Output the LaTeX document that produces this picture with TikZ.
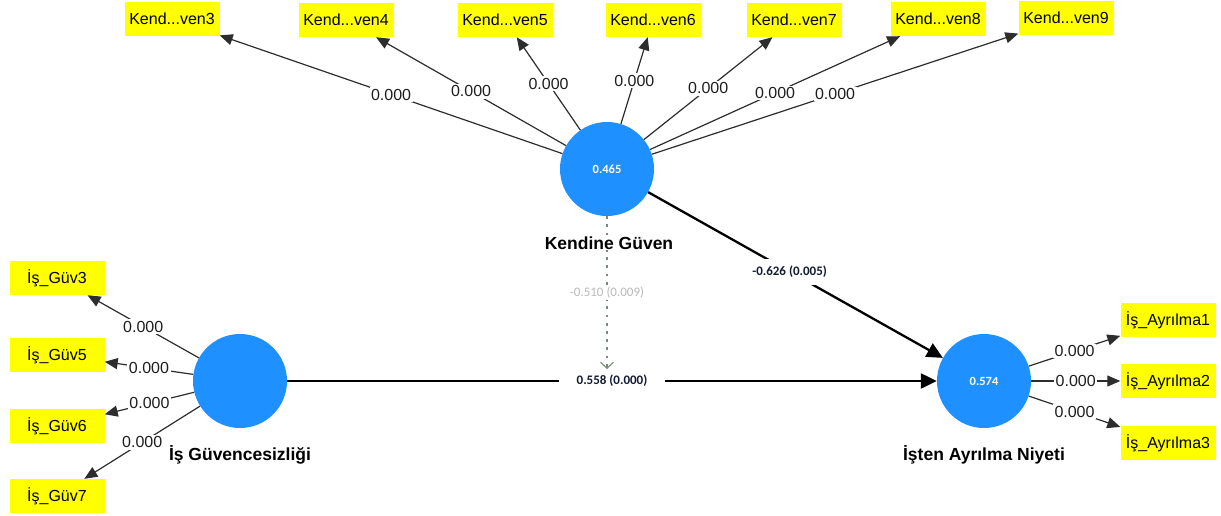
\documentclass[tikz,border=0pt]{standalone}
\usepackage{fontspec}
\setmainfont{Liberation Sans}
\newfontfamily\calib{Carlito}
\usetikzlibrary{arrows.meta}
\definecolor{lvblue}{RGB}{30,144,255}
\definecolor{indyel}{RGB}{255,255,0}
\definecolor{modgray}{RGB}{118,138,118}
\definecolor{modtext}{RGB}{185,185,185}
\definecolor{loadline}{RGB}{45,45,45}
\definecolor{pathtext}{RGB}{20,28,50}
\begin{document}
\begin{tikzpicture}[x=1pt,y=-1pt,
 lv/.style={circle,fill=lvblue,minimum size=94pt,inner sep=0pt,text=white,font=\calib\bfseries\fontsize{12.5}{14}\selectfont},
 ind/.style={rectangle,fill=indyel,minimum width=95pt,minimum height=34pt,inner sep=0pt,font=\fontsize{16}{18}\selectfont},
 lvname/.style={font=\bfseries\fontsize{17.5}{20}\selectfont,fill=white,inner sep=1pt},
 load/.style={draw=loadline,line width=1.2pt,-{Triangle[length=13pt,width=11pt]}},
 loadlab/.style={fill=white,inner sep=1.5pt,font=\fontsize{16}{18}\selectfont,text={rgb,255:red,30;green,30;blue,30}},
 pathar/.style={draw=black,line width=2.3pt,-{Triangle[length=16pt,width=15pt]}},
 pathlab/.style={fill=white,inner xsep=18pt,inner ysep=7pt,text=pathtext,font=\calib\bfseries\fontsize{13}{15}\selectfont},
 modar/.style={draw=modgray,line width=2.8pt,dash pattern=on 2.8pt off 5.4pt,-{Straight Barb[length=6pt,width=13pt,line width=1.1pt]}},
 modlab/.style={fill=white,inner sep=2pt,text=modtext,font=\calib\fontsize{13}{15}\selectfont}
]
\useasboundingbox[fill=white] (0,0) rectangle (1221,515);

% latent variables
\node[lv] (kg) at (607,169) {0.465};
\node[lv] (ig) at (240,381) {};
\node[lv] (ia) at (984,381) {0.574};

% indicators
\node[ind] (k3) at (172,19) {Kend...ven3};
\node[ind] (k4) at (346,20) {Kend...ven4};
\node[ind] (k5) at (505,20) {Kend...ven5};
\node[ind] (k6) at (653,20) {Kend...ven6};
\node[ind] (k7) at (794,20) {Kend...ven7};
\node[ind] (k8) at (938,19) {Kend...ven8};
\node[ind] (k9) at (1066,18) {Kend...ven9};

\node[ind] (g3) at (57,278) {İş\_Güv3};
\node[ind] (g5) at (57,355) {İş\_Güv5};
\node[ind] (g6) at (57,426) {İş\_Güv6};
\node[ind] (g7) at (57,496) {İş\_Güv7};

\node[ind] (a1) at (1168,320) {İş\_Ayrılma1};
\node[ind] (a2) at (1168,381) {İş\_Ayrılma2};
\node[ind] (a3) at (1168,443) {İş\_Ayrılma3};

\coordinate (modend) at (607,369);

% outer model
\foreach \t in {k3,k4,k5,k6,k7,k8,k9}
  \draw[load] (kg) -- node[loadlab]{0.000} (\t);
\foreach \t in {g3,g5,g6,g7}
  \draw[load] (ig) -- node[loadlab]{0.000} (\t);
\foreach \t in {a1,a2,a3}
  \draw[load] (ia) -- node[loadlab]{0.000} (\t);

% inner model
\draw[pathar] (kg) -- node[pathlab,pos=0.48]{-0.626 (0.005)} (ia);
\draw[pathar] (ig) -- node[pathlab] (lab558) {0.558 (0.000)} (ia);
\draw[modar] (kg) -- node[modlab]{-0.510 (0.009)} (modend);

% names
\node[lvname] (kgname) at (609,243) {Kendine Güven};
\node[lvname] (igname) at (240,455) {İş Güvencesizliği};
\node[lvname] (ianame) at (984,455) {İşten Ayrılma Niyeti};
\end{tikzpicture}
\end{document}
